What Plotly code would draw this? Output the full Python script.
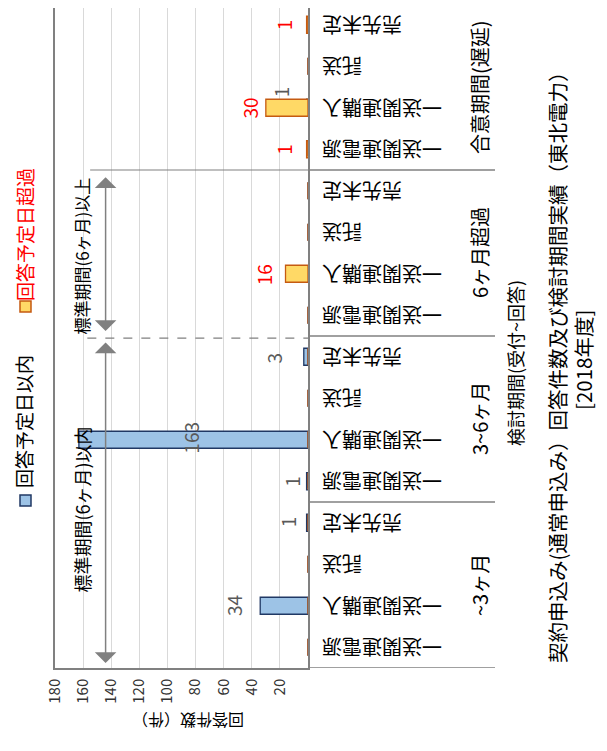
import plotly.graph_objects as go

# data
groups = ['~3ヶ月', '3~6ヶ月', '6ヶ月超過', '合意期間(遅延)']
subs = ['一送関連電源', '一送関連購入', '託送', '売先未定']
within = [0, 34, 0, 1,   1, 163, 0, 3,   0, 0, 0, 0,   0, 1, 0, 0]
over = [0, 0, 0, 0,   0, 0, 0, 0,   0, 16, 0, 0,   1, 30, 0, 1]
series_names = ['回答予定日以内', '回答予定日超過']
value_ticks = [20, 40, 60, 80, 100, 120, 140, 160, 180]

# label nudges in pixels (dx, dy) where the picture moved them by hand
nudge_within = {1: (-26, 0), 3: (-19, 1), 4: (-15, 0), 5: (112, 2), 7: (-30, -1), 13: (-26, 16)}
nudge_over = {9: (-22, -1), 12: (-23, 0), 13: (-16, 0), 15: (-23, 0)}

W, H = 607, 751
L, R, T, B = 47, 300, 0, 660  # plot area in pixels
FONT = 'Noto Sans CJK JP'
GRAY = '#808080'


def px(x):
    return (x - L) / (R - L)


def py(y):
    return (B - y) / (B - T)


n = len(subs) * len(groups)
pos = list(range(n))
slot_px = 41.5
ytop = n - 0.5 - 4 / slot_px

fig = go.Figure()
fig.add_trace(go.Bar(y=pos, x=within, orientation='h', width=0.41, name=series_names[0],
                     marker=dict(color='#9DC3E6', line=dict(color='#203864', width=1.3))))
fig.add_trace(go.Bar(y=pos, x=over, orientation='h', width=0.41, name=series_names[1],
                     marker=dict(color='#FFD966', line=dict(color='#C55A11', width=1.3))))

ann = []
# data labels
for vals, nud, col in [(within, nudge_within, '#595959'), (over, nudge_over, '#FF0000')]:
    for i, v in enumerate(vals):
        if v == 0:
            continue
        dx, dy = nud.get(i, (-20, 0))
        ann.append(dict(x=v, y=i, xref='x', yref='y', text=str(v), showarrow=False, textangle=-90,
                        xanchor='center', yanchor='middle', xshift=dx, yshift=dy,
                        font=dict(family=FONT, size=19, color=col)))

# sub category labels (upside down) and group labels
for g, gname in enumerate(groups):
    for s, sname in enumerate(subs):
        ann.append(dict(x=px(312), y=g * len(subs) + s, xref='paper', yref='y', text=sname,
                        showarrow=False, textangle=180, xanchor='left', yanchor='middle',
                        font=dict(family=FONT, size=20, color='#000000')))
    ann.append(dict(x=px(471), y=g * len(subs) + (len(subs) - 1) / 2, xref='paper', yref='y',
                    text=gname, showarrow=False, textangle=-90, xanchor='center', yanchor='middle',
                    font=dict(family=FONT, size=20, color='#000000')))

# axis titles, chart title
ann.append(dict(x=px(522), y=py(355), xref='paper', yref='paper', text='検討期間(受付~回答)',
                showarrow=False, textangle=-90, font=dict(family=FONT, size=18, color='#000000')))
ann.append(dict(x=px(180), y=py(727), xref='paper', yref='paper', text='回答件数（件）',
                showarrow=False, textangle=180, font=dict(family=FONT, size=16, color='#000000')))
ann.append(dict(x=px(566), y=py(355), xref='paper', yref='paper',
                text='契約申込み(通常申込み）回答件数及び検討期間実績（東北電力）',
                showarrow=False, textangle=-90, font=dict(family=FONT, size=20.5, color='#000000')))
ann.append(dict(x=px(592), y=py(352), xref='paper', yref='paper', text='[2018年度]',
                showarrow=False, textangle=-90, font=dict(family=FONT, size=20.5, color='#000000')))

# legend drawn by hand (rotated)
ann.append(dict(x=px(16), y=py(414), xref='paper', yref='paper', text=series_names[0],
                showarrow=False, textangle=-90, xanchor='center', yanchor='middle',
                font=dict(family=FONT, size=19, color='#000000')))
ann.append(dict(x=px(16), y=py(227), xref='paper', yref='paper', text=series_names[1],
                showarrow=False, textangle=-90, xanchor='center', yanchor='middle',
                font=dict(family=FONT, size=19, color='#FF0000')))

# standard period arrows
arrow = dict(xref='x', yref='y', axref='x', ayref='y', text='', showarrow=True,
             arrowside='end+start', arrowhead=1, arrowsize=2.4, arrowwidth=1.5, arrowcolor=GRAY)
ann.append(dict(x=144, y=-0.38, ax=144, ay=7.38, **arrow))
ann.append(dict(x=144, y=7.62, ax=144, ay=11.36, **arrow))
ann.append(dict(x=161, y=3.31, xref='x', yref='y', text='標準期間(6ヶ月)以内', showarrow=False,
                textangle=-90, font=dict(family=FONT, size=18, color='#000000')))
ann.append(dict(x=161, y=9.43, xref='x', yref='y', text='標準期間(6ヶ月)以上', showarrow=False,
                textangle=-90, font=dict(family=FONT, size=17, color='#000000')))

shapes = []
for k in range(len(groups) + 1):
    yb = k * len(subs) - 0.5
    if yb > ytop:
        continue
    shapes.append(dict(type='line', xref='paper', yref='y', x0=1, x1=px(487), y0=yb, y1=yb,
                       line=dict(color=GRAY, width=1.5)))
shapes.append(dict(type='line', xref='x', yref='y', x0=155, x1=0, y0=11.5, y1=11.5,
                   line=dict(color=GRAY, width=1.2)))
shapes.append(dict(type='line', xref='x', yref='y', x0=157, x1=0, y0=7.45, y1=7.45,
                   line=dict(color=GRAY, width=1.2, dash='dash')))
# legend keys
for yc, fc, lc in [(492.5, '#9DC3E6', '#203864'), (298.5, '#FFD966', '#C55A11')]:
    shapes.append(dict(type='rect', xref='paper', yref='paper', x0=px(12), x1=px(23),
                       y0=py(yc + 5.5), y1=py(yc - 5.5), fillcolor=fc, line=dict(color=lc, width=1.5)))

fig.update_layout(
    width=W, height=H, margin=dict(l=L, r=W - R, t=T, b=H - B, autoexpand=False),
    barmode='overlay', showlegend=False, plot_bgcolor='white', paper_bgcolor='white',
    annotations=ann, shapes=shapes,
    xaxis=dict(range=[180, 0], tickvals=value_ticks, tickangle=-90, showgrid=True, automargin=False,
               gridcolor='#D9D9D9', gridwidth=1, zeroline=False, showline=True, linecolor=GRAY,
               linewidth=1.5, ticklabelstandoff=3,
               tickfont=dict(family=FONT, size=15, color='#333333')),
    yaxis=dict(range=[-0.5, ytop], showticklabels=False, showgrid=False, zeroline=False,
               automargin=False, showline=True, mirror=True, linecolor=GRAY, linewidth=1.5),
)

fig.write_html("out.html")
